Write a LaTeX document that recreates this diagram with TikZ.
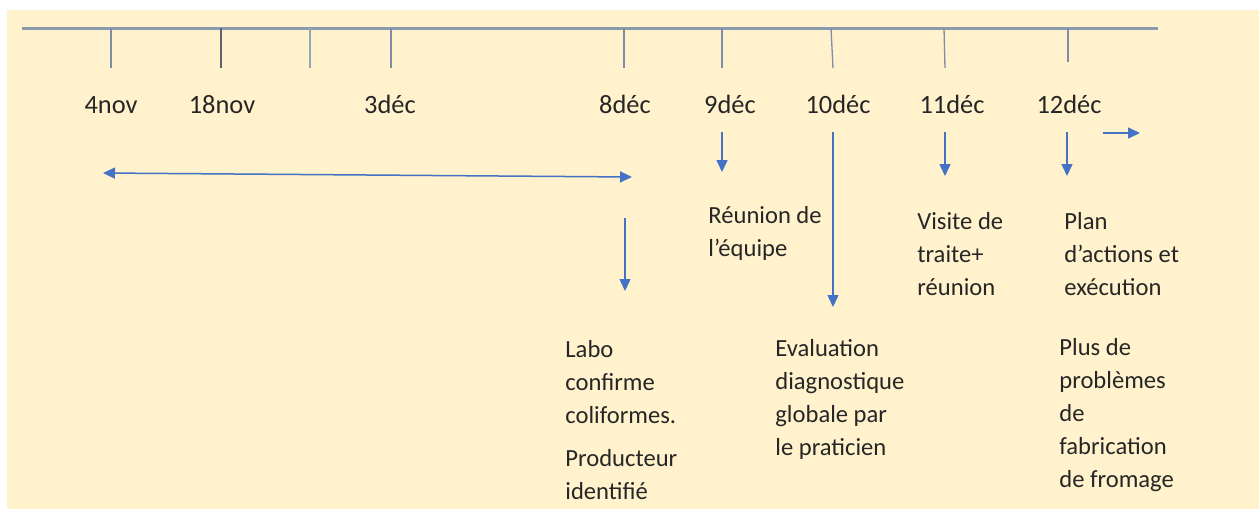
\documentclass[tikz,border=0pt]{standalone}
\usepackage{fontspec}
\setmainfont{Carlito}
\usetikzlibrary{arrows.meta}
\definecolor{creme}{HTML}{FFF2CC}
\definecolor{axe}{HTML}{8C9AAE}
\definecolor{trait}{HTML}{7F8EA6}
\definecolor{fleche}{HTML}{4472C4}
\definecolor{texte}{HTML}{262626}
\tikzset{tlaxis/.style={line width=1.5pt,color=axe},
  tltick/.style={line width=0.65pt,color=trait},
  tlarrow/.style={line width=0.75pt,color=fleche,-{Triangle[width=5.5pt,length=6pt]}},
  tlboth/.style={line width=0.75pt,color=fleche,{Triangle[width=5.5pt,length=6pt]}-{Triangle[width=5.5pt,length=6pt]}},
  tldate/.style={font=\fontsize{13.2}{16}\selectfont,text=texte,inner sep=0pt,anchor=base},
  tltext/.style={font=\fontsize{12.3}{16.5}\selectfont,text=texte,inner sep=0pt,anchor=base west,align=left}}

\begin{document}
\begin{tikzpicture}[x=0.5pt,y=-0.5pt]
    \useasboundingbox (0,0) rectangle (1259,510);
    \fill[creme] (7,10) rectangle (1259,509);

    % axe du temps
    \coordinate (debut) at (22,28);
    \coordinate (fin) at (1158,28);
    \draw[tlaxis] (debut) -- (fin);

    \coordinate (h4nov) at (111,28);   \coordinate (b4nov) at (111,68);
    \coordinate (h18nov) at (221,28);  \coordinate (b18nov) at (221,68);
    \coordinate (hsep) at (310,28);    \coordinate (bsep) at (310,68);
    \coordinate (h3dec) at (391,28);   \coordinate (b3dec) at (391,68);
    \coordinate (h8dec) at (624,28);   \coordinate (b8dec) at (624,68);
    \coordinate (h9dec) at (722,28);   \coordinate (b9dec) at (722,68);
    \coordinate (h10dec) at (831,28);  \coordinate (b10dec) at (833,68);
    \coordinate (h11dec) at (944,28);  \coordinate (b11dec) at (945,68);
    \coordinate (h12dec) at (1068,28); \coordinate (b12dec) at (1068,62);

    \draw [tltick] (h4nov) -- (b4nov);
    \draw [tltick,line width=1pt,color=trait!70!black] (h18nov) -- (b18nov);
    \draw [tltick,line width=1.4pt,color=trait!80] (hsep) -- (bsep);
    \draw [tltick] (h3dec) -- (b3dec);
    \draw [tltick] (h8dec) -- (b8dec);
    \draw [tltick] (h9dec) -- (b9dec);
    \draw [tltick] (h10dec) -- (b10dec);
    \draw [tltick] (h11dec) -- (b11dec);
    \draw [tltick] (h12dec) -- (b12dec);

    \node [tldate] (d4nov) at (111,113) {4nov};
    \node [tldate] (d18nov) at (222,113) {18nov};
    \node [tldate] (d3dec) at (390,113) {3déc};
    \node [tldate] (d8dec) at (625,113) {8déc};
    \node [tldate] (d9dec) at (730,113) {9déc};
    \node [tldate] (d10dec) at (838,113) {10déc};
    \node [tldate] (d11dec) at (952,113) {11déc};
    \node [tldate] (d12dec) at (1069,113) {12déc};

    % fleches
    \coordinate (gauche) at (103,173);
    \coordinate (droite) at (632,177);
    \coordinate (a8) at (625,218);   \coordinate (p8) at (625,291);
    \coordinate (a9) at (722,132);   \coordinate (p9) at (722,172);
    \coordinate (a10) at (833,132);  \coordinate (p10) at (833,307);
    \coordinate (a11) at (945,132);  \coordinate (p11) at (945,176);
    \coordinate (a12) at (1067,132); \coordinate (p12) at (1067,176);
    \coordinate (asuite) at (1103,133); \coordinate (psuite) at (1140,133);

    \draw [tlboth] (gauche) -- (droite);
    \draw [tlarrow] (a8) -- (p8);
    \draw [tlarrow] (a9) -- (p9);
    \draw [tlarrow] (a10) -- (p10);
    \draw [tlarrow] (a11) -- (p11);
    \draw [tlarrow] (a12) -- (p12);
    \draw [tlarrow] (asuite) -- (psuite);

    % textes (base = derniere ligne)
    \node [tltext] (reunion) at (708,256) {Réunion de\\l’équipe};
    \node [tltext] (visite) at (917,295) {Visite de\\traite+\\réunion};
    \node [tltext] (plan) at (1064,295) {Plan\\d’actions et\\exécution};
    \node [tltext] (labo) at (565,499) {Labo\\confirme\\coliformes.\\[5pt]Producteur\\identifié};
    \node [tltext] (evaluation) at (775,455) {Evaluation\\diagnostique\\globale par\\le praticien};
    \node [tltext] (plus) at (1059,487) {Plus de\\problèmes\\de\\fabrication\\de fromage};
\end{tikzpicture}
\end{document}
